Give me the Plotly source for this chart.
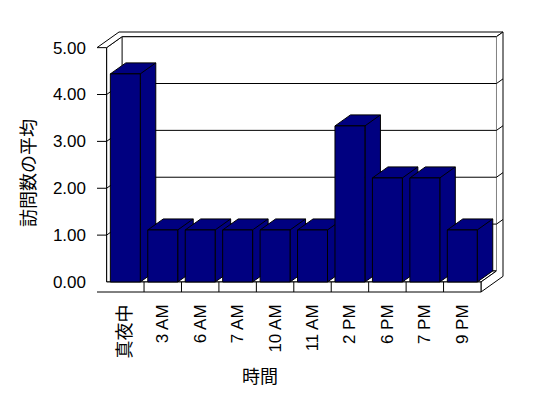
import plotly.graph_objects as go

# ---------------- data ----------------
categories = ["真夜中", "3 AM", "6 AM", "7 AM", "10 AM", "11 AM", "2 PM", "6 PM", "7 PM", "9 PM"]
values = [4.44, 1.11, 1.11, 1.11, 1.11, 1.11, 3.33, 2.22, 2.22, 1.11]
y_ticks = [0, 1, 2, 3, 4, 5]
y_tick_labels = ["0.00", "1.00", "2.00", "3.00", "4.00", "5.00"]
x_title = "時間"
y_title = "訪問数の平均"

# ---------------- style / geometry ----------------
W, H = 548, 398
PX_X = 37.44          # pixels per category
PX_Y = 46.8           # pixels per value unit
ORIGIN = (106.6, 282.0)  # pixel of front-plane (x=-0.5, y=0)
DEPTH_PX = (15.5, 11.0)
WALL_DEPTH = 1.42
WALL_PX = 9.6
FLOOR_PX = 10.0
BAR_W = 0.8
NAVY = "#000080"
FONT = "Liberation Sans, Arial, Noto Sans CJK JP, sans-serif"
CJK = "Noto Sans CJK JP, sans-serif"
TICK_FONT = dict(family=FONT, size=17, color="black")

n = len(categories)
X0, X1 = -0.5, n - 0.5
YTOP = max(y_ticks)
dx, dy = DEPTH_PX[0] / PX_X, DEPTH_PX[1] / PX_Y
dxo, dyo = dx * WALL_DEPTH, dy * WALL_DEPTH
XL = X0 - WALL_PX / PX_X
YB = -FLOOR_PX / PX_Y
PAD = 2
xr = [XL - PAD / PX_X, X1 + dxo + PAD / PX_X]
yr = [YB - PAD / PX_Y, YTOP + dyo + PAD / PX_Y]

ml = round(ORIGIN[0] - (X0 - xr[0]) * PX_X)
pw = round((xr[1] - xr[0]) * PX_X)
mr = W - ml - pw
mt = round(ORIGIN[1] - yr[1] * PX_Y)
ph = round((yr[1] - yr[0]) * PX_Y)
mb = H - mt - ph


def poly(xs, ys, fill="white"):
    return go.Scatter(x=xs, y=ys, mode="lines", fill="toself", fillcolor=fill,
                      line=dict(color="black", width=1), hoverinfo="skip",
                      showlegend=False, cliponaxis=False)


def segs(seglist):
    xs, ys = [], []
    for (xa, ya), (xb, yb) in seglist:
        xs += [xa, xb, None]
        ys += [ya, yb, None]
    return go.Scatter(x=xs, y=ys, mode="lines", line=dict(color="black", width=1),
                      hoverinfo="skip", showlegend=False, cliponaxis=False)


fig = go.Figure()

# back wall inner face
fig.add_trace(poly([X0 + dx, X1 + dx, X1 + dx, X0 + dx],
                   [dy, dy, YTOP + dy, YTOP + dy]))
# left wall inner face
fig.add_trace(poly([X0, X0, X0 + dx, X0 + dx], [0, YTOP, YTOP + dy, dy]))
# floor top face
fig.add_trace(poly([X0, X1, X1 + dx, X0 + dx], [0, 0, dy, dy]))
# top of walls
fig.add_trace(poly([XL, XL + dxo, X1 + dxo, X1 + dx, X0 + dx, X0],
                   [YTOP, YTOP + dyo, YTOP + dyo, YTOP + dy, YTOP + dy, YTOP]))
# right faces (back wall + floor)
fig.add_trace(poly([X1 + dx, X1 + dxo, X1 + dxo, X1, X1, X1 + dx],
                   [YTOP + dy, YTOP + dyo, YB + dyo, YB, 0, dy]))
# front L (left wall + floor front)
fig.add_trace(poly([XL, X0, X0, X1, X1, XL], [YTOP, YTOP, 0, 0, YB, YB]))

# gridlines
g = []
for v in y_ticks[1:-1]:
    g.append(((XL, v), (X0, v)))
    g.append(((X0, v), (X0 + dx, v + dy)))
    g.append(((X0 + dx, v + dy), (X1 + dx, v + dy)))
    g.append(((X1 + dx, v + dy), (X1 + dxo, v + dyo)))
# category separators on floor front
for i in range(n - 1):
    g.append(((i + 0.5, 0), (i + 0.5, YB)))
fig.add_trace(segs(g))

# bar top + side faces (in order, left to right)
hw = BAR_W / 2
for i, v in enumerate(values):
    F = (i + hw, v)
    A = (i - hw, v)
    B = (i - hw + dx, v + dy)
    C = (i + hw + dx, v + dy)
    E = (i + hw, 0)
    D = (i + hw + dx, dy)
    pts = [F, A, B, C, F, E, D, C]
    fig.add_trace(poly([p[0] for p in pts], [p[1] for p in pts], fill=NAVY))

# bar front faces on an overlaying axis pair (drawn above)
fig.add_trace(go.Bar(x=list(range(n)), y=values, width=BAR_W,
                     marker=dict(color=NAVY, line=dict(color="black", width=1)),
                     xaxis="x2", yaxis="y2", showlegend=False, hoverinfo="skip"))

ticktext = []
for c in categories:
    if c.isascii():
        ticktext.append(c)
    else:
        ticktext.append('<span style="font-size:18px;font-family:Noto Sans CJK JP">%s</span>' % c)

fig.update_layout(
    width=W, height=H, autosize=False,
    margin=dict(l=ml, r=mr, t=mt, b=mb, pad=0),
    paper_bgcolor="white", plot_bgcolor="rgba(0,0,0,0)",
    font=dict(family=FONT, size=17, color="black"),
    showlegend=False,
    xaxis=dict(range=xr, tickvals=list(range(n)), ticktext=ticktext, tickangle=-90,
               tickfont=TICK_FONT,
               showgrid=False, zeroline=False, showline=False, ticks="",
               ticklabelstandoff=6, fixedrange=True),
    yaxis=dict(range=yr, tickvals=y_ticks, ticktext=y_tick_labels,
               tickfont=TICK_FONT,
               showgrid=False, zeroline=False, showline=False, ticks="",
               ticklabelstandoff=8, fixedrange=True),
    xaxis2=dict(range=xr, overlaying="x", visible=False, fixedrange=True),
    yaxis2=dict(range=yr, overlaying="y", visible=False, fixedrange=True),
    annotations=[
        dict(text=y_title, textangle=-90, showarrow=False,
             xref="paper", yref="paper",
             x=(27 - ml) / pw, y=1 - (173 - mt) / ph,
             xanchor="center", yanchor="middle",
             font=dict(family=CJK, size=18, color="black")),
        dict(text=x_title, showarrow=False,
             xref="paper", yref="paper",
             x=(260 - ml) / pw, y=1 - (375 - mt) / ph,
             xanchor="center", yanchor="middle",
             font=dict(family=CJK, size=18, color="black")),
    ],
)

fig.write_html("out.html")
